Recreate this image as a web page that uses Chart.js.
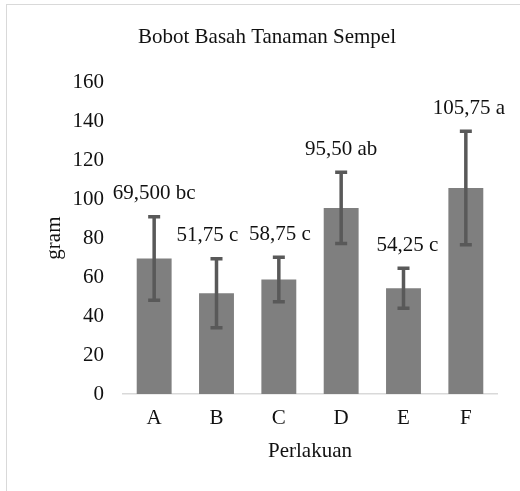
<!DOCTYPE html>
<html>
<head>
<meta charset="utf-8">
<script src="https://cdn.jsdelivr.net/npm/chart.js@4/dist/chart.umd.min.js"></script>
<style>
  html, body { margin: 0; padding: 0; background: #fff; overflow: hidden; }
  #frame {
    position: absolute; left: 6px; top: 4px;
    width: 540px; height: 520px;
    border: 1px solid #d9d9d9;
  }
  #wrap { position: absolute; left: 0; top: 0; width: 520px; height: 491px; }
</style>
</head>
<body>
<div id="frame"></div>
<div id="wrap"><canvas id="chart"></canvas></div>
<script>
// =========================
// DATA
// =========================

const categories = ["A", "B", "C", "D", "E", "F"];
const means = [69.5, 51.75, 58.75, 95.5, 54.25, 105.75];
const errors = [21.4, 17.7, 11.4, 18.3, 10.3, 29.1];
const valueLabels = ["69,500 bc", "51,75 c", "58,75 c", "95,50 ab", "54,25 c", "105,75 a"];
const yTicks = [0, 20, 40, 60, 80, 100, 120, 140, 160];

const FONT = "'Liberation Serif', 'Times New Roman', serif";
const TEXT = "#111";
const SIZE = 21;

// small horizontal nudges so neighbouring labels don't collide (as in Excel)
const LABEL_NUDGE = [0, -9, 1, 0, 4, 3];


// =========================
// ERROR BARS + LABELS
// =========================

const errorBarPlugin = {
  id: "errorBars",
  afterDatasetsDraw(chart) {
    const ctx = chart.ctx;
    const y = chart.scales.y;
    const meta = chart.getDatasetMeta(0);

    ctx.save();
    meta.data.forEach((bar, i) => {
      const x = bar.x;
      const top = y.getPixelForValue(means[i] + errors[i]);
      const bot = y.getPixelForValue(means[i] - errors[i]);

      ctx.strokeStyle = "#595959";
      ctx.lineWidth = 3.5;
      ctx.beginPath();
      ctx.moveTo(x, top);
      ctx.lineTo(x, bot);
      ctx.moveTo(x - 6, top);
      ctx.lineTo(x + 6, top);
      ctx.moveTo(x - 6, bot);
      ctx.lineTo(x + 6, bot);
      ctx.stroke();

      ctx.fillStyle = TEXT;
      ctx.font = SIZE + "px " + FONT;
      ctx.textAlign = "center";
      ctx.textBaseline = "middle";
      ctx.fillText(valueLabels[i], x + LABEL_NUDGE[i], top - 23);
    });
    ctx.restore();
  }
};


// =========================
// CHART
// =========================

new Chart(document.getElementById("chart"), {
  type: "bar",
  data: {
    labels: categories,
    datasets: [{
      data: means,
      backgroundColor: "#7f7f7f",
      borderWidth: 0,
      barPercentage: 0.56,
      categoryPercentage: 1
    }]
  },
  options: {
    responsive: true,
    maintainAspectRatio: false,
    animation: false,
    layout: { padding: { left: 37, right: 23, top: 0, bottom: 27 } },
    plugins: {
      legend: { display: false },
      tooltip: { enabled: false },
      title: {
        display: true,
        text: "Bobot Basah Tanaman Sempel",
        color: TEXT,
        font: { family: FONT, size: SIZE, weight: "normal", lineHeight: 1.2 },
        padding: { top: 25, bottom: 32 }
      }
    },
    scales: {
      x: {
        grid: { display: false, drawTicks: false },
        border: { color: "#d9d9d9", width: 1.5 },
        ticks: { color: TEXT, padding: 12, font: { family: FONT, size: SIZE } },
        title: {
          display: true,
          text: "Perlakuan",
          color: TEXT,
          padding: { top: 0, bottom: 0 },
          font: { family: FONT, size: SIZE, lineHeight: 1.2 }
        },
        afterFit(scale) { scale.height = 70; }
      },
      y: {
        min: 0,
        max: 160,
        grid: { display: false, drawTicks: false },
        border: { display: false },
        afterBuildTicks(scale) { scale.ticks = yTicks.map(v => ({ value: v })); },
        ticks: { color: TEXT, padding: 19, font: { family: FONT, size: SIZE } },
        title: {
          display: true,
          text: "gram",
          color: TEXT,
          padding: { top: 5, bottom: 0 },
          font: { family: FONT, size: SIZE, lineHeight: 1.2 }
        },
        afterFit(scale) { scale.width = 86; }
      }
    }
  },
  plugins: [errorBarPlugin]
});
</script>
</body>
</html>
